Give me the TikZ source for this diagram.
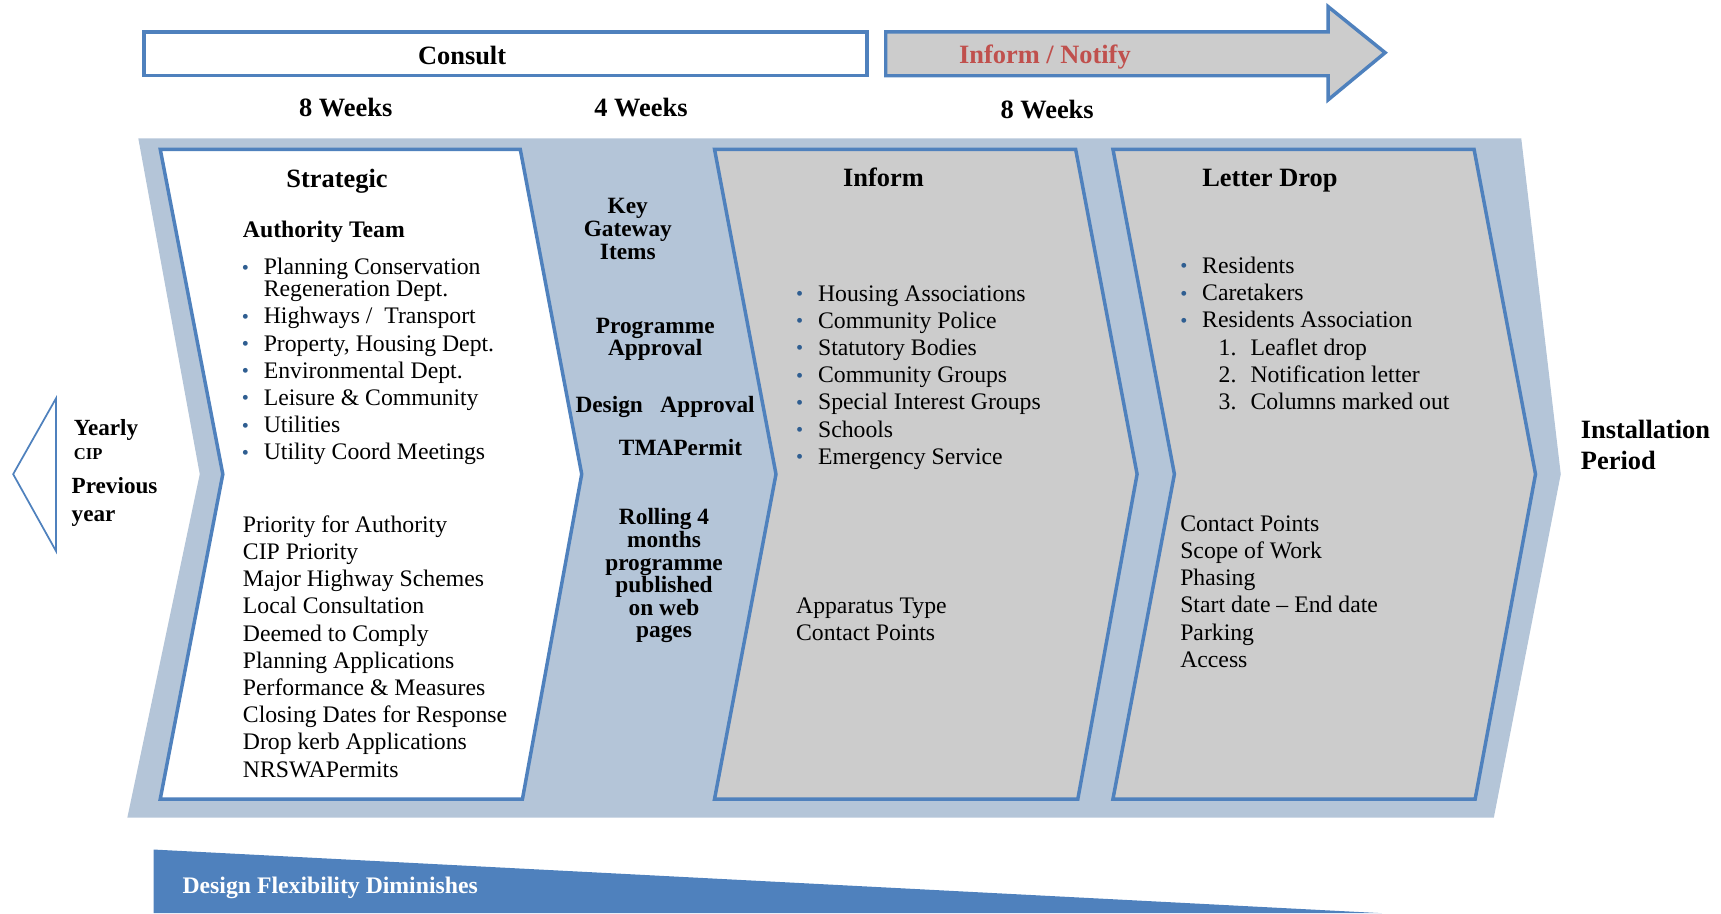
\documentclass[tikz,border=0pt]{standalone}
\usepackage{fontspec}
\setmainfont{Liberation Serif}
\definecolor{flowblue}{HTML}{4F81BD}
\definecolor{backblue}{HTML}{B4C5D8}
\definecolor{panelgrey}{HTML}{CCCCCC}
\definecolor{notifyred}{HTML}{C0504D}
\definecolor{bulletblue}{HTML}{2F5E91}
\newcommand\blt{\makebox[0.4cm][l]{\raisebox{0.3pt}{\textcolor{bulletblue}{\fontsize{10.5}{10}\selectfont\textbullet}}}}
\newcommand\numitem[1]{\hspace*{0.7cm}\makebox[0.58cm][l]{#1}}
\tikzset{
  panel/.style = {draw=flowblue, line width=1.8pt},% chevron panels
  bar/.style = {draw=flowblue, line width=1.8pt},% top bars
  head/.style = {inner sep=0pt, anchor=base,
    font=\bfseries\fontsize{13.7}{16.4}\selectfont},% titles
  body/.style = {inner sep=0pt, anchor=base west, align=left,
    font=\fontsize{12.3}{14.1}\selectfont},% lists (anchored at last line)
  bodybold/.style = {body, font=\bfseries\fontsize{12.3}{14.1}\selectfont},
  gate/.style = {inner sep=0pt, anchor=base, align=center,
    font=\bfseries\fontsize{12.1}{11.7}\selectfont},% key gateway items
  sidetext/.style = {inner sep=0pt, anchor=base west, align=left,
    font=\bfseries\fontsize{12}{14.7}\selectfont}% yearly CIP
}
\begin{document}
\begin{tikzpicture}[x=0.02cm, y=-0.02cm]
\useasboundingbox (0,0) rectangle (1568,832);
% top bars
\draw[bar, fill=white] (131,29) rectangle (790,69);
\draw[bar, fill=panelgrey] (807,29) -- (1210,29) -- (1210,6) -- (1262,48)
  -- (1210,91) -- (1210,69) -- (807,69) -- cycle;
\node[head] (consult) at (421,59) {Consult};
\node[head, text=notifyred] (notify) at (952,58) {Inform / Notify};
\node[head] (wkA) at (315,106) {8 Weeks};
\node[head] (wkB) at (584,106) {4 Weeks};
\node[head] (wkC) at (954,108) {8 Weeks};
% background chevron
\fill[backblue] (126,126) -- (1386,126) -- (1422,432) -- (1361,745)
  -- (116,745) -- (182,432) -- cycle;
% panels
\draw[panel, fill=white] (146,136) -- (474,136) -- (530,432) -- (476,728)
  -- (146,728) -- (203,432) -- cycle;
\draw[panel, fill=panelgrey] (651,136) -- (980,136) -- (1036,432) -- (982,728)
  -- (651,728) -- (707,432) -- cycle;
\draw[panel, fill=panelgrey] (1014,136) -- (1343,136) -- (1399,432) -- (1344,728)
  -- (1014,728) -- (1070,432) -- cycle;
% strategic
\node[head] (strategic) at (307,171) {Strategic};
\node[bodybold] (authteam) at (221,216) {Authority Team};
\node[body] (authlist) at (220,419) {\blt Planning Conservation\\[-2.7pt]
  \hspace*{0.4cm}Regeneration Dept.\\ \blt Highways /~ Transport\\
  \blt Property, Housing Dept.\\ \blt Environmental Dept.\\
  \blt Leisure \& Community\\ \blt Utilities\\ \blt Utility Coord Meetings};
\node[body] (priority) at (221,708) {Priority for Authority\\CIP Priority\\
  Major Highway Schemes\\Local Consultation\\Deemed to Comply\\
  Planning Applications\\Performance \& Measures\\Closing Dates for Response\\
  Drop kerb Applications\\NRSWAPermits};
% key gateway
\node[gate] (keyitems) at (572,236) {Key\\Gateway\\Items};
\node[gate] (progappr) at (597,324) {Programme\\Approval};
\node[gate, anchor=base west] (designappr) at (524,376) {Design~~ Approval};
\node[gate] (tma) at (620,415) {TMAPermit};
\node[gate] (rolling) at (605,581) {Rolling 4\\months\\programme\\published\\on web\\pages};
% inform
\node[head] (inform) at (805,170) {Inform};
\node[body] (informlist) at (725,423) {\blt Housing Associations\\
  \blt Community Police\\ \blt Statutory Bodies\\ \blt Community Groups\\
  \blt Special Interest Groups\\ \blt Schools\\ \blt Emergency Service};
\node[body] (apparatus) at (725,584) {Apparatus Type\\Contact Points};
% letter drop
\node[head] (letter) at (1157,170) {Letter Drop};
\node[body] (letterlist) at (1075,373) {\blt Residents\\ \blt Caretakers\\
  \blt Residents Association\\ \numitem{1.}Leaflet drop\\
  \numitem{2.}Notification letter\\ \numitem{3.}Columns marked out};
\node[body] (contacts) at (1075,608) {Contact Points\\Scope of Work\\Phasing\\
  Start date -- End date\\Parking\\Access};
% installation
\node[head, anchor=base west, align=left] (install) at (1440,428) {Installation\\Period};
% previous year
\draw[flowblue, line width=0.9pt] (51,363) -- (12,432) -- (51,502) -- cycle;
\node[sidetext] (yearly) at (67,397) {Yearly};
\node[sidetext, font=\bfseries\fontsize{8.6}{10}\selectfont] (cip) at (67,419) {CIP};
\node[sidetext] (previous) at (65,475) {Previous\\year};
% flexibility
\fill[flowblue] (140,774) -- (1259,832) -- (140,832) -- cycle;
\node[bodybold, text=white] (flex) at (166,814) {Design Flexibility Diminishes};
\end{tikzpicture}
\end{document}
